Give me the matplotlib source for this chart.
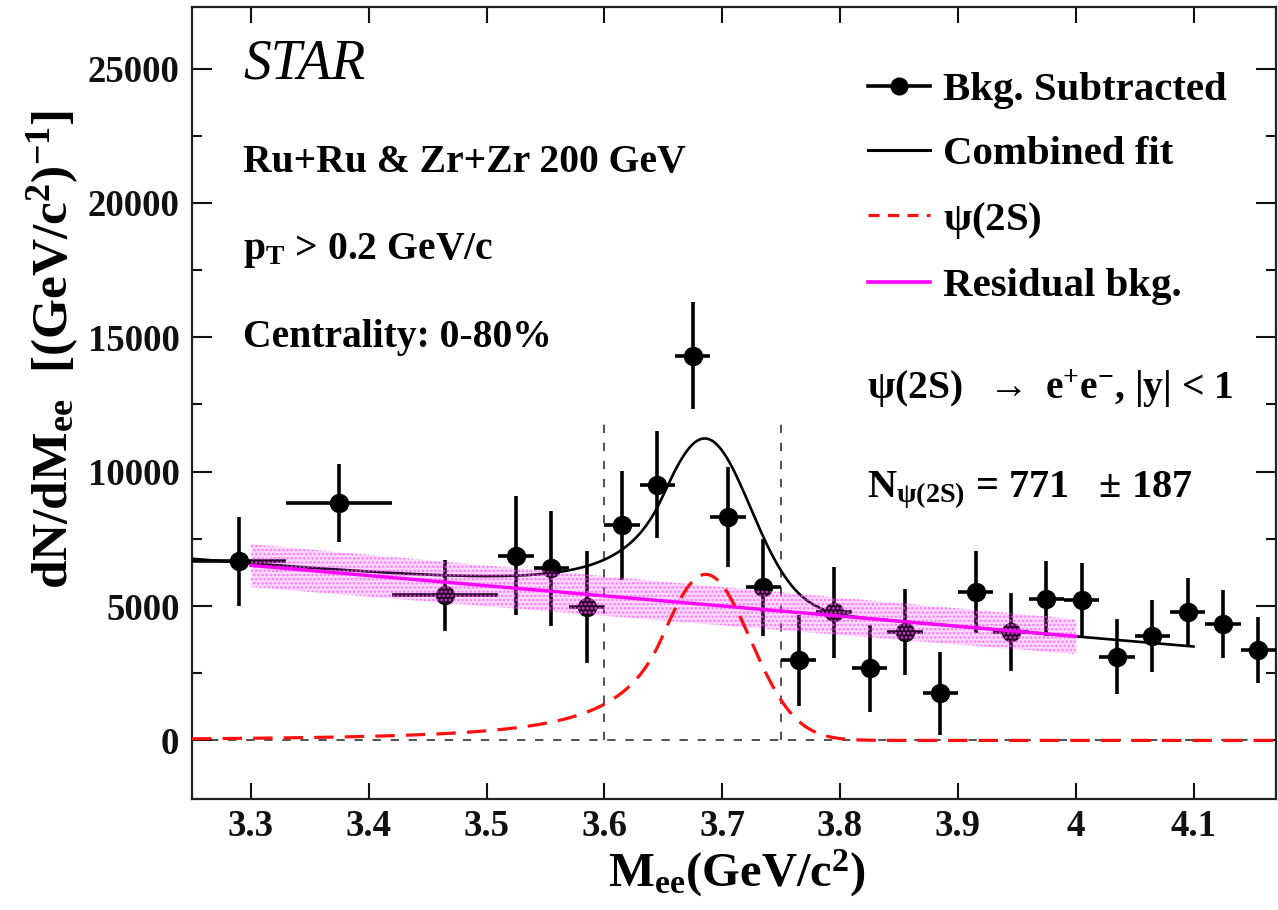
import numpy as np
import matplotlib
matplotlib.use('Agg')
import matplotlib.pyplot as plt
from matplotlib.lines import Line2D
from matplotlib.ticker import MultipleLocator

# background-subtracted dielectron spectrum
mass = [3.29, 3.375, 3.465, 3.525, 3.555, 3.585, 3.615, 3.645, 3.675, 3.705,
        3.735, 3.765, 3.795, 3.825, 3.855, 3.885, 3.915, 3.945, 3.975, 4.005,
        4.035, 4.065, 4.095, 4.125, 4.155]
mass_err = [0.04, 0.045, 0.045, 0.015, 0.015, 0.015, 0.015, 0.015, 0.015, 0.015,
            0.015, 0.015, 0.015, 0.015, 0.015, 0.015, 0.015, 0.015, 0.015, 0.015,
            0.015, 0.015, 0.015, 0.015, 0.015]
counts = [6660, 8820, 5400, 6880, 6400, 4950, 8000, 9520, 14320, 8330,
          5690, 2980, 4760, 2680, 4020, 1750, 5510, 4020, 5280, 5210,
          3120, 3870, 4760, 4320, 3350]
counts_err = [1650, 1450, 1320, 2200, 2140, 2080, 2040, 2000, 2000, 1860,
              1800, 1700, 1700, 1620, 1600, 1530, 1525, 1450, 1400, 1380,
              1380, 1340, 1270, 1270, 1230]

# fit results: Crystal Ball peak + linear residual background
peak_mean = 3.686
peak_sigma = 0.038
cb_alpha = 1.0
cb_n = 2.5
peak_height = 6180
bkg_ref = 6510        # residual bkg. at 3.3 GeV/c^2
bkg_slope = -3770     # per GeV/c^2
band_halfwidth = [800, 650]   # at 3.3 and 4.0

plt.rcParams['font.family'] = ['Liberation Serif', 'DejaVu Serif']
plt.rcParams['font.weight'] = 'bold'
plt.rcParams['mathtext.fontset'] = 'custom'
plt.rcParams['mathtext.rm'] = 'Liberation Serif:bold'
plt.rcParams['mathtext.it'] = 'Liberation Serif:bold'
plt.rcParams['mathtext.bf'] = 'Liberation Serif:bold'
plt.rcParams['lines.scale_dashes'] = False
plt.rcParams['hatch.linewidth'] = 1.2


def crystal_ball(x):
    t = (x - peak_mean) / peak_sigma
    a = (cb_n / cb_alpha) ** cb_n * np.exp(-cb_alpha ** 2 / 2)
    b = cb_n / cb_alpha - cb_alpha
    tail = a * np.clip(b - t, 1e-6, None) ** (-cb_n)
    return peak_height * np.where(t > -cb_alpha, np.exp(-t ** 2 / 2), tail)


def residual_bkg(x):
    return bkg_ref + bkg_slope * (x - 3.3)


fig = plt.figure(figsize=(12.78, 9.10), dpi=100)
ax = fig.add_axes([192 / 1278, 111 / 910, 1084 / 1278, 792 / 910])
ax.set_xlim(3.25, 4.17)
ax.set_ylim(-2180, 27290)

# reference lines
ax.plot([3.25, 4.17], [0, 0], color='#333333', lw=1.2, dashes=(6, 7), zorder=1)
for xv in (3.6, 3.75):
    ax.plot([xv, xv], [0, 12100], color='#333333', lw=1.2, dashes=(6, 7), zorder=1)

ax.errorbar(mass, counts, xerr=mass_err, yerr=counts_err, fmt='o', color='black',
            ms=13, elinewidth=2.6, capsize=0, zorder=3)

xf = np.linspace(3.25, 4.1, 400)
ax.plot(xf, residual_bkg(xf) + crystal_ball(xf), color='black', lw=1.9, zorder=4)

xb = np.linspace(3.3, 4.0, 50)
hw = np.interp(xb, [3.3, 4.0], band_halfwidth)
ax.fill_between(xb, residual_bkg(xb) - hw, residual_bkg(xb) + hw,
                color='#ff33ff', alpha=0.18, lw=0, zorder=5)
ax.fill_between(xb, residual_bkg(xb) - hw, residual_bkg(xb) + hw,
                facecolor='none', edgecolor='#ff55ff', hatch='....', lw=0,
                alpha=0.75, zorder=5)
ax.plot(xb, residual_bkg(xb), color='#ff00ff', lw=2.4, zorder=6)

xs = np.linspace(3.25, 4.17, 400)
ax.plot(xs, crystal_ball(xs), color='#ff1010', lw=2.3, dashes=(14, 8), zorder=7)

# axes styling
ax.yaxis.set_major_locator(MultipleLocator(5000))
ax.yaxis.set_minor_locator(MultipleLocator(2500))
ax.set_xticks([3.3, 3.4, 3.5, 3.6, 3.7, 3.8, 3.9, 4.0, 4.1])
ax.set_xticklabels(['3.3', '3.4', '3.5', '3.6', '3.7', '3.8', '3.9', '4', '4.1'])
ax.tick_params(axis='both', which='both', direction='in', top=True, right=True,
               width=1.5, labelsize=26.5, colors='#111111')
ax.tick_params(axis='x', which='major', length=11.5, pad=7)
ax.tick_params(axis='y', which='major', length=14.5, pad=9)
ax.tick_params(axis='y', which='minor', length=7)
for spine in ax.spines.values():
    spine.set_linewidth(1.6)
    spine.set_color('#222222')

ax.text(0.503, -0.11, r'M$_{\rm ee}$(GeV/c$^{2}$)', transform=ax.transAxes,
        ha='center', va='baseline', fontsize=35)
ax.text(-0.128, 0.568, r'dN/dM$_{\rm ee}$  [(GeV/c$^{2}$)$^{-1}$]', transform=ax.transAxes,
        ha='center', va='center', rotation=90, fontsize=37)

# annotations
ax.text(0.047, 0.927, 'STAR', transform=ax.transAxes, fontsize=40,
        style='italic', fontweight='normal', va='center')
ax.text(0.047, 0.804, 'Ru+Ru & Zr+Zr 200 GeV', transform=ax.transAxes,
        fontsize=28.5, va='center')
ax.text(0.047, 0.692, r'p$_{\rm T}$ > 0.2 GeV/c', transform=ax.transAxes,
        fontsize=28.5, va='center')
ax.text(0.047, 0.583, 'Centrality: 0-80%', transform=ax.transAxes,
        fontsize=28.5, va='center')
ax.text(0.623, 0.518, r'$\psi$(2S)  $\rightarrow$ e$^{+}$e$^{-}$, |y| < 1',
        transform=ax.transAxes, fontsize=28.5, va='center')
ax.text(0.623, 0.39, r'N$_{\psi(\rm 2S)}$ = 771   $\pm$ 187',
        transform=ax.transAxes, fontsize=29, va='center')

handles = [
    Line2D([], [], color='black', lw=2.6, marker='o', ms=12),
    Line2D([], [], color='black', lw=2.2),
    Line2D([], [], color='#ff1010', lw=2.3, dashes=(8, 6)),
    Line2D([], [], color='#ff00ff', lw=2.6),
]
labels = ['Bkg. Subtracted', 'Combined fit', r'$\psi$(2S)', 'Residual bkg.']
ax.legend(handles, labels, loc='upper left', bbox_to_anchor=(0.6125, 0.934),
          frameon=False, fontsize=29.4, handlelength=1.52, handletextpad=0.3,
          labelspacing=0.65, borderpad=0.3, borderaxespad=0)

fig.savefig('out.png', dpi=100)
